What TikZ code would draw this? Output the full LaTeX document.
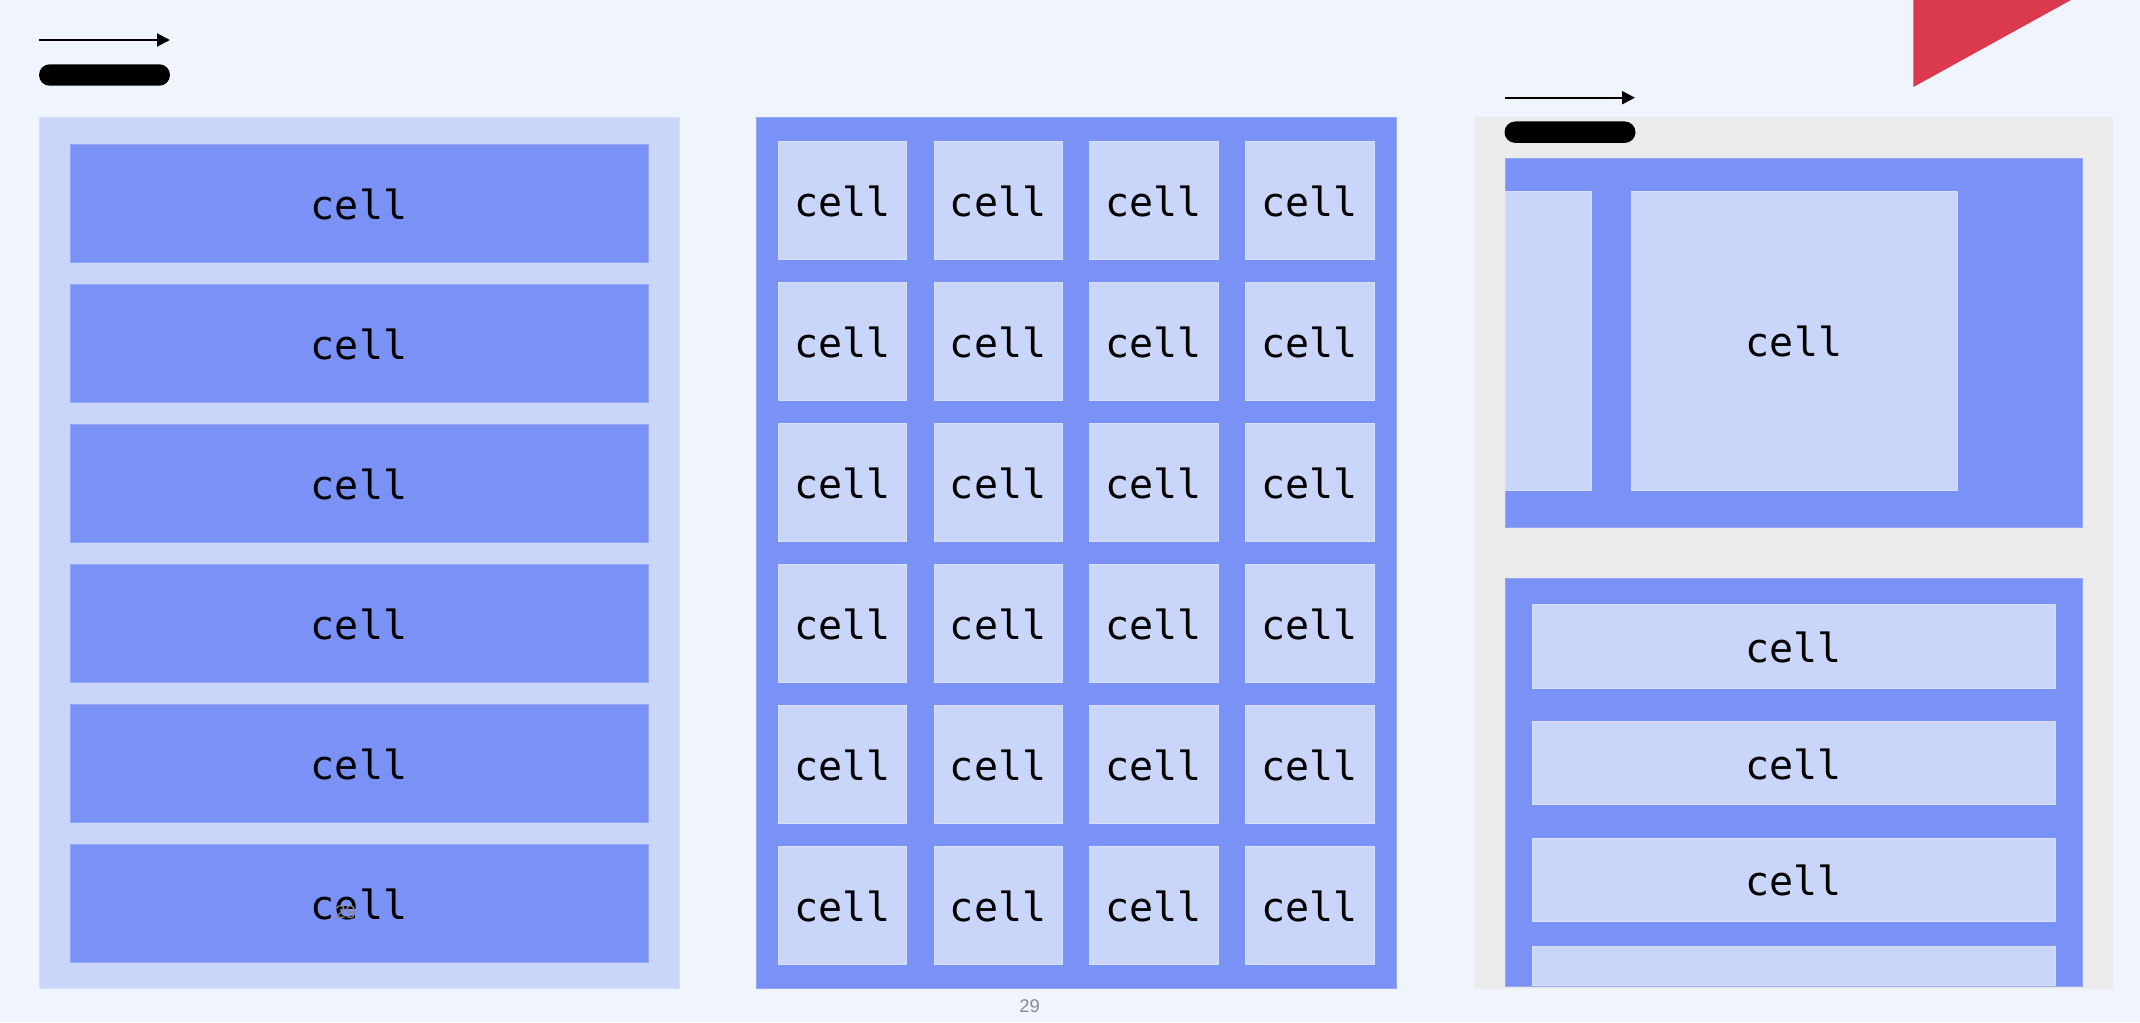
\documentclass[tikz,border=0pt]{standalone}
\usepackage{fontspec}
\usepackage{tikz}
\usetikzlibrary{positioning}
\usetikzlibrary{arrows.meta}
\newfontfamily\cellfont{DejaVu Sans Mono}
\newfontfamily\pagefont{Liberation Sans}
\definecolor{PageBack}{HTML}{F0F4FD}
\definecolor{CellPale}{HTML}{CAD5FA}
\definecolor{CellBlue}{HTML}{7A91F5}
\definecolor{PanelGrey}{HTML}{EBEBEB}
\definecolor{CornerRed}{HTML}{DB3A4E}
\definecolor{NumGrey}{HTML}{8A8A8A}
\tikzset{
  Box/.style = {rectangle, inner sep=0pt, outer sep=0pt},
  Panel/.style = {Box, minimum width=320pt, minimum height=435.5pt},
  BlueCell/.style = {Box, fill=CellBlue, draw=CellBlue!80!white, line width=0.25pt,
                     text height=16.6pt, font=\cellfont\fontsize{20}{20}\selectfont},
  PaleCell/.style = {Box, fill=CellPale, draw=CellPale!75!white, line width=0.25pt,
                     text height=16.6pt, font=\cellfont\fontsize{20}{20}\selectfont},
  RowCell/.style = {BlueCell, minimum width=289pt, minimum height=59pt},
  GridCell/.style = {PaleCell, minimum width=64.3pt, minimum height=59pt},
  ListCell/.style = {PaleCell, minimum width=261.75pt, minimum height=41.65pt},
  Pill/.style = {Box, fill=black, rounded corners=5.35pt, minimum width=65.5pt, minimum height=10.7pt},
  FlowArrow/.style = {line width=1pt, -{Triangle[length=6.5pt, width=6.5pt]}},
  PageNum/.style = {text=NumGrey, font=\pagefont\fontsize{9.2}{10}\selectfont}
}
\begin{document}
\begin{tikzpicture}[x=0.5pt, y=-0.5pt]

    %Background
    \fill[PageBack] (0,0) rectangle (2140,1022);
    \useasboundingbox (0,0) rectangle (2140,1022);

    %Legend, left
    \coordinate (ArrowLeftA) at (39,40);
    \coordinate (ArrowLeftB) at (170,40);
    \draw[FlowArrow] (ArrowLeftA) -- (ArrowLeftB);
    \node[Pill] (PillLeft) at (104.5,75) {};

    %Corner mark
    \fill[CornerRed] (1913.4,0) -- (2071,0) -- (1913.4,87) -- cycle;

    %-------------------------------------------
    %Left panel: one column of rows
    \node[Panel, fill=CellPale, draw=CellPale!75!white, line width=0.25pt] (LeftPanel) at (359,553) {};

    \node[RowCell, below right = +13.25pt and +15.50pt of LeftPanel.north west] (Row1) {cell};
    \node[RowCell, below = +11.00pt of Row1] (Row2) {cell};
    \node[RowCell, below = +11.00pt of Row2] (Row3) {cell};
    \node[RowCell, below = +11.00pt of Row3] (Row4) {cell};
    \node[RowCell, below = +11.00pt of Row4] (Row5) {cell};
    \node[RowCell, below = +11.00pt of Row5] (Row6) {cell};

    %-------------------------------------------
    %Middle panel: grid of cells
    \node[Panel, fill=CellBlue, draw=CellBlue!80!white, line width=0.25pt] (MidPanel) at (1076,553) {};

    \node[GridCell, below right = +12.00pt and +11.00pt of MidPanel.north west] (Grid11) {cell};
    \node[GridCell, right = +13.60pt of Grid11] (Grid12) {cell};
    \node[GridCell, right = +13.60pt of Grid12] (Grid13) {cell};
    \node[GridCell, right = +13.60pt of Grid13] (Grid14) {cell};

    \node[GridCell, below = +11.50pt of Grid11] (Grid21) {cell};
    \node[GridCell, below = +11.50pt of Grid12] (Grid22) {cell};
    \node[GridCell, below = +11.50pt of Grid13] (Grid23) {cell};
    \node[GridCell, below = +11.50pt of Grid14] (Grid24) {cell};

    \node[GridCell, below = +11.50pt of Grid21] (Grid31) {cell};
    \node[GridCell, below = +11.50pt of Grid22] (Grid32) {cell};
    \node[GridCell, below = +11.50pt of Grid23] (Grid33) {cell};
    \node[GridCell, below = +11.50pt of Grid24] (Grid34) {cell};

    \node[GridCell, below = +11.50pt of Grid31] (Grid41) {cell};
    \node[GridCell, below = +11.50pt of Grid32] (Grid42) {cell};
    \node[GridCell, below = +11.50pt of Grid33] (Grid43) {cell};
    \node[GridCell, below = +11.50pt of Grid34] (Grid44) {cell};

    \node[GridCell, below = +11.50pt of Grid41] (Grid51) {cell};
    \node[GridCell, below = +11.50pt of Grid42] (Grid52) {cell};
    \node[GridCell, below = +11.50pt of Grid43] (Grid53) {cell};
    \node[GridCell, below = +11.50pt of Grid44] (Grid54) {cell};

    \node[GridCell, below = +11.50pt of Grid51] (Grid61) {cell};
    \node[GridCell, below = +11.50pt of Grid52] (Grid62) {cell};
    \node[GridCell, below = +11.50pt of Grid53] (Grid63) {cell};
    \node[GridCell, below = +11.50pt of Grid54] (Grid64) {cell};

    %-------------------------------------------
    %Right panel: nested boxes
    \node[Panel, minimum width=319.5pt, fill=PanelGrey] (RightPanel) at (1793.5,553) {};

    \coordinate (ArrowRightA) at (1505,97.7);
    \coordinate (ArrowRightB) at (1635,97.7);
    \draw[FlowArrow] (ArrowRightA) -- (ArrowRightB);
    \node[Pill] (PillRight) at (1570,132.2) {};

    \node[BlueCell, minimum width=288.65pt, minimum height=184.6pt,
          below right = +20.40pt and +15.50pt of RightPanel.north west] (TopBox) {};
    \node[PaleCell, minimum width=43.35pt, minimum height=149.5pt,
          below right = +16.35pt and +0.00pt of TopBox.north west] (Sliver) {};
    \node[PaleCell, minimum width=163pt, minimum height=149.5pt,
          right = +19.65pt of Sliver] (BigCell) {cell};

    \node[BlueCell, minimum width=288.65pt, minimum height=203.75pt,
          below = +25.50pt of TopBox] (BottomBox) {};
    \node[ListCell, below right = +13.10pt and +13.50pt of BottomBox.north west] (List1) {cell};
    \node[ListCell, below = +16.65pt of List1] (List2) {cell};
    \node[ListCell, below = +16.65pt of List2] (List3) {cell};
    \node[ListCell, minimum height=19.35pt, below = +12.65pt of List3] (List4) {};

    %-------------------------------------------
    %Labels

    \node[PageNum, inner sep=0pt] (StrayNum) at (345.5,912) {29};
    \node[PageNum, inner sep=0pt] (PageNumber) at (1029.5,1006.5) {29};

\end{tikzpicture}
\end{document}
